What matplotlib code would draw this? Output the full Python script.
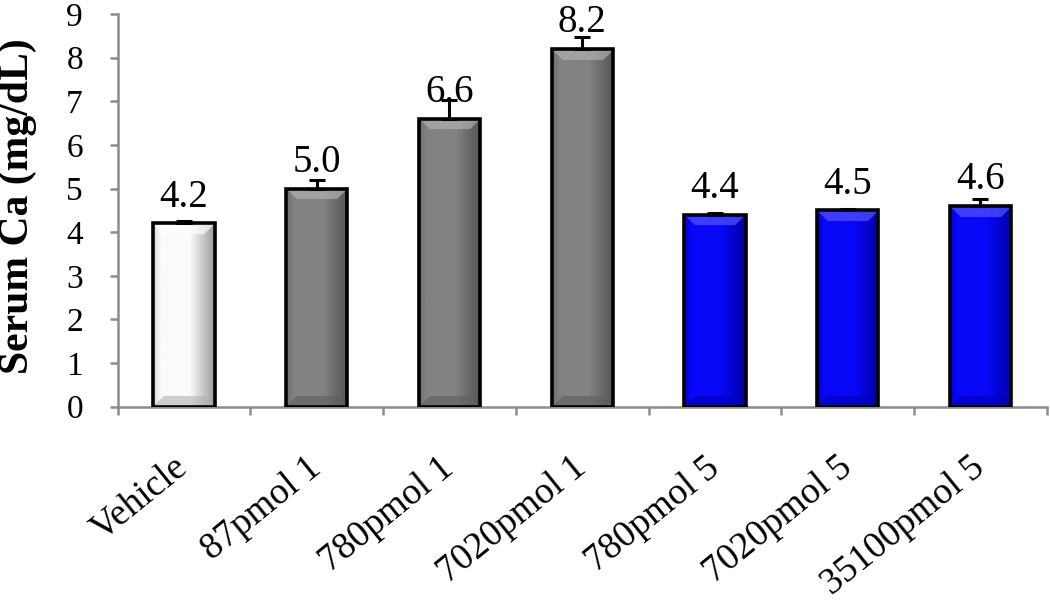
import matplotlib
matplotlib.use('Agg')
import matplotlib.pyplot as plt
import numpy as np
from matplotlib.colors import to_rgb

# data
groups = ['Vehicle', '87pmol 1', '780pmol 1', '7020pmol 1',
          '780pmol 5', '7020pmol 5', '35100pmol 5']
serum_ca = [4.2, 5.0, 6.6, 8.2, 4.4, 4.5, 4.6]
err_up = [0.05, 0.2, 0.42, 0.28, 0.05, 0.03, 0.15]
value_labels = ['4.2', '5.0', '6.6', '8.2', '4.4', '4.5', '4.6']
bar_kind = ['white', 'gray', 'gray', 'gray', 'blue', 'blue', 'blue']

# horizontal shading: left edge, body, right edge ; plus top / bottom bevel tint
shades = {
    'white': ('#d8d8d8', '#fbfbfb', '#9c9c9c', '#ffffff', '#b0b0b0'),
    'gray': ('#707070', '#828282', '#555555', '#b4b4b4', '#5e5e5e'),
    'blue': ('#0000d8', '#0808f8', '#0000a8', '#5a5aff', '#0000b8'),
}


def bar_image(kind, w_px, h_px, bevel=11):
    left, body, right, top, bottom = [np.array(to_rgb(c)) for c in shades[kind]]
    t = np.linspace(0, 1, w_px)
    prof = np.empty((w_px, 3))
    for k in range(3):
        prof[:, k] = np.interp(t, [0, 0.12, 0.6, 1.0],
                               [left[k], body[k], body[k], right[k]])
    img = np.repeat(prof[None, :, :], h_px, axis=0)
    i = np.arange(h_px)[:, None]
    j = np.arange(w_px)[None, :]
    dl, dr = j, w_px - 1 - j
    dt, db = i, h_px - 1 - i
    top_mask = (dt < bevel) & (dt <= dl) & (dt <= dr)
    bot_mask = (db < bevel) & (db <= dl) & (db <= dr)
    img[top_mask] = 0.35 * img[top_mask] + 0.65 * top
    img[bot_mask] = 0.4 * img[bot_mask] + 0.6 * bottom
    return img


plt.rcParams['font.family'] = ['Liberation Serif', 'DejaVu Serif']

fig = plt.figure(figsize=(10.5, 6.07), dpi=100)
ax = fig.add_axes([0.112, 0.33, 0.885, 0.647])

x = np.arange(len(groups))
width = 0.46

ax.set_xlim(-0.5, len(groups) - 0.5)
ax.set_ylim(0, 9)

bars = ax.bar(x, serum_ca, width=width, color='none', edgecolor='black',
              linewidth=2.6, zorder=3)

px_per_unit = 0.647 * 607 / 9
for b, kind in zip(bars, bar_kind):
    h_px = max(int(b.get_height() * px_per_unit), 2)
    img = bar_image(kind, 60, h_px)
    x0 = b.get_x()
    im = ax.imshow(img, extent=[x0, x0 + b.get_width(), 0, b.get_height()],
                   aspect='auto', zorder=2, interpolation='bilinear')
    im.set_clip_path(b)

ax.errorbar(x, serum_ca, yerr=[np.zeros(len(x)), err_up], fmt='none',
            ecolor='black', elinewidth=2.2, capsize=6, capthick=2.2, zorder=4)

for xi, v, lab in zip(x, serum_ca, value_labels):
    ax.annotate(lab, (xi, v), xytext=(0, 12), textcoords='offset points',
                ha='center', va='baseline', fontsize=28, zorder=5)

ax.set_xlim(-0.5, len(groups) - 0.5)
ax.set_ylim(0, 9)
ax.set_yticks(range(0, 10))

ax.set_xticks(x)
ax.set_xticklabels(groups, rotation=39, ha='right', va='center',
                   rotation_mode='anchor', fontsize=27)
ax.set_xticks(np.arange(-0.5, len(groups), 1), minor=True)
ax.tick_params(axis='x', which='major', length=0, pad=41)
ax.tick_params(axis='x', which='minor', length=6, color='#8c8c8c', width=1.8)
ax.tick_params(axis='y', length=6, color='#8c8c8c', width=1.8, labelsize=24,
               pad=19)

for s in ['top', 'right']:
    ax.spines[s].set_visible(False)
for s in ['left', 'bottom']:
    ax.spines[s].set_color('#8c8c8c')
    ax.spines[s].set_linewidth(1.8)

ax.set_ylabel('Serum Ca (mg/dL)', fontsize=30, fontweight='bold')
ax.yaxis.set_label_coords(-0.087, 0.51)

fig.savefig('out.png', dpi=100)
